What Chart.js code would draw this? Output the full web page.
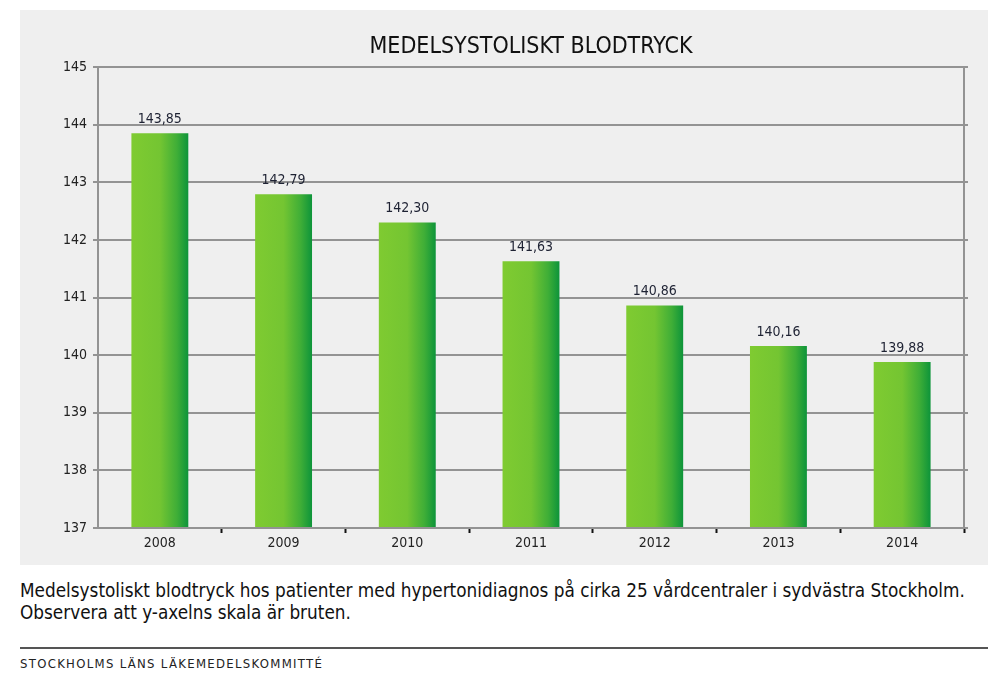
<!DOCTYPE html>
<html>
<head>
<meta charset="utf-8">
<script src="https://cdn.jsdelivr.net/npm/chart.js@4/dist/chart.umd.min.js"></script>
<style>
  body { margin: 0; background: #fff; width: 988px; height: 688px; position: relative; overflow: hidden;
         font-family: "DejaVu Sans Condensed", "DejaVu Sans", sans-serif; }
  #panel { position: absolute; left: 20px; top: 10px; width: 968px; height: 555px; background: #efefef; }
  #title { position: absolute; left: 78px; width: 866px; top: 22px; text-align: center;
           font-size: 23px; color: #111; }
  #caption { position: absolute; left: 20px; top: 580px; font-size: 18.8px; line-height: 22px; color: #111; }
  #rule { position: absolute; left: 20px; top: 647px; width: 968px; height: 2px; background: #555; }
  #footer { position: absolute; left: 20px; top: 656px; font-size: 13px; color: #222; letter-spacing: 1.3px; }
</style>
</head>
<body>
<div id="panel">
  <div id="title">MEDELSYSTOLISKT BLODTRYCK</div>
  <canvas id="chart" width="968" height="555"></canvas>
</div>
<div id="caption">Medelsystoliskt blodtryck hos patienter med hypertonidiagnos på cirka 25 vårdcentraler i sydvästra Stockholm.<br>Observera att y-axelns skala är bruten.</div>
<div id="rule"></div>
<div id="footer">STOCKHOLMS LÄNS LÄKEMEDELSKOMMITTÉ</div>

<script>
// data
const years = ['2008', '2009', '2010', '2011', '2012', '2013', '2014'];
const bloodPressure = [143.85, 142.79, 142.30, 141.63, 140.86, 140.16, 139.88];
const yTicks = [137, 138, 139, 140, 141, 142, 143, 144, 145];

const fontFamily = '"DejaVu Sans Condensed", "DejaVu Sans", sans-serif';
const barPct = 0.46;

// gradient for each bar, light green left -> dark green right
function barGradient(context) {
    const chart = context.chart;
    const xScale = chart.scales.x;
    if (!xScale || !chart.chartArea) return '#6fc233';
    const center = xScale.getPixelForValue(context.dataIndex);
    const half = (chart.chartArea.width / years.length) * barPct / 2;
    const g = chart.ctx.createLinearGradient(center - half, 0, center + half, 0);
    g.addColorStop(0, '#7fcb31');
    g.addColorStop(0.5, '#74c532');
    g.addColorStop(0.8, '#3fae37');
    g.addColorStop(1, '#0d943a');
    return g;
}

// value labels above bars
const valueLabels = {
    id: 'valueLabels',
    afterDatasetsDraw(chart) {
        const ctx = chart.ctx;
        ctx.save();
        ctx.font = '14px ' + fontFamily;
        ctx.fillStyle = '#1e2233';
        ctx.textAlign = 'center';
        ctx.textBaseline = 'bottom';
        chart.getDatasetMeta(0).data.forEach((bar, i) => {
            ctx.fillText(bloodPressure[i].toFixed(2).replace('.', ','), bar.x, bar.y - 7);
        });
        ctx.restore();
    }
};

new Chart(document.getElementById('chart'), {
    type: 'bar',
    data: {
        labels: years,
        datasets: [{
            data: bloodPressure,
            backgroundColor: barGradient,
            borderWidth: 0,
            categoryPercentage: 1,
            barPercentage: barPct,
            base: 137
        }]
    },
    options: {
        responsive: false,
        animation: false,
        layout: { padding: { top: 57, left: 0, right: 0, bottom: 0 } },
        plugins: {
            legend: { display: false },
            tooltip: { enabled: false }
        },
        scales: {
            x: {
                grid: {
                    offset: true,
                    drawOnChartArea: false,
                    tickLength: 5,
                    tickWidth: 2,
                    tickColor: (c) => (c.index === 0 || c.index === years.length) ? 'rgba(0,0,0,0)' : '#111'
                },
                border: { color: '#939393', width: 2 },
                ticks: { color: '#222', font: { size: 14, family: fontFamily }, padding: 2 },
                afterFit(scale) { scale.height = 37; }
            },
            y: {
                min: 137,
                max: 145,
                afterBuildTicks(scale) { scale.ticks = yTicks.map(v => ({ value: v })); },
                grid: { color: '#939393', lineWidth: 2, tickLength: 5 },
                border: { color: '#939393', width: 2 },
                ticks: { color: '#222', font: { size: 14, family: fontFamily }, padding: 6 },
                afterFit(scale) { scale.width = 78; }
            },
            y2: {
                position: 'right',
                min: 137,
                max: 145,
                afterBuildTicks(scale) { scale.ticks = yTicks.map(v => ({ value: v })); },
                grid: { drawOnChartArea: false, color: '#939393', lineWidth: 2, tickLength: 4 },
                border: { color: '#939393', width: 2 },
                ticks: { display: false },
                afterFit(scale) { scale.width = 24; }
            }
        }
    },
    plugins: [valueLabels]
});
</script>
</body>
</html>
